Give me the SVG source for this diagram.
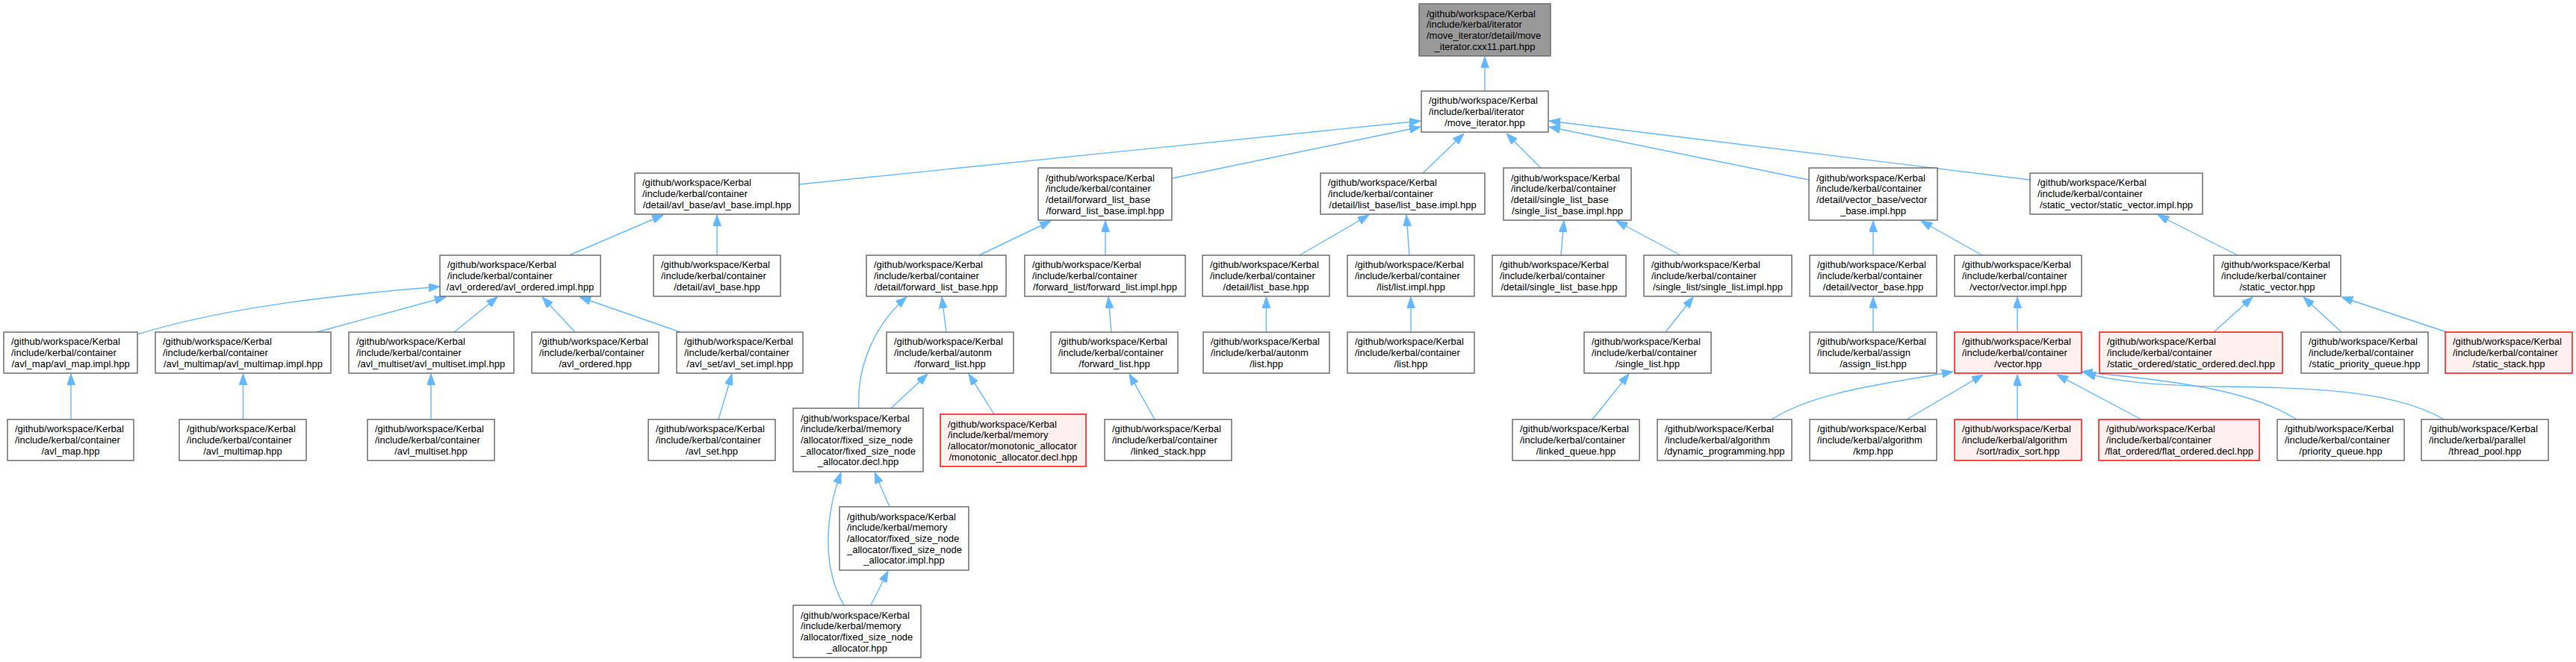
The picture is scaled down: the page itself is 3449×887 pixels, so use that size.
<svg xmlns="http://www.w3.org/2000/svg" width="3449" height="887" viewBox="0 0 3449 887">
<style>
.n rect{fill:#ffffff;stroke:#666666;stroke-width:1.4}
.r rect{fill:#fff0f0;stroke:#ff0000;stroke-width:1.4}
.root rect{fill:#999999;stroke:#666666;stroke-width:1.4}
text{font-family:"Liberation Sans",Arial,sans-serif;font-size:13px;fill:#000000}
.c{text-anchor:middle}
#edges path{fill:none;stroke:#63b8ff;stroke-width:1.4;marker-end:url(#ah)}
</style>
<defs>
<marker id="ah" markerUnits="userSpaceOnUse" viewBox="0 0 15 11" refX="15" refY="5.5" markerWidth="15" markerHeight="11" orient="auto">
<path d="M0,0 L15,5.5 L0,11 z" fill="#63b8ff" stroke="#63b8ff" stroke-width="1"/>
</marker>
</defs>
<rect x="0" y="0" width="3449" height="887" fill="#ffffff"/>
<g id="edges">
<path d="M1988,122 L1988,76"/>
<path d="M1070,247 L1902,162"/>
<path d="M1569,239 L1902,170"/>
<path d="M1905,232 L1960,179"/>
<path d="M2063,225 L2017,179"/>
<path d="M2422,241 L2074,170"/>
<path d="M2718,241 L2074,162"/>
<path d="M762,342 L888,288"/>
<path d="M960,342 L960,288"/>
<path d="M1311,342 L1407,296"/>
<path d="M1480,342 L1480,296"/>
<path d="M1740,342 L1833,288"/>
<path d="M1887,342 L1883,288"/>
<path d="M2090,342 L2094,296"/>
<path d="M2250,342 L2164,296"/>
<path d="M2508,342 L2508,296"/>
<path d="M2654,342 L2572,296"/>
<path d="M2996,342 L2889,288"/>
<path d="M184,448 C300,412 450,395 589,384"/>
<path d="M424,445 L597,398"/>
<path d="M608,445 L666,398"/>
<path d="M770,445 L726,398"/>
<path d="M911,445 L776,398"/>
<path d="M95,562 L95,501"/>
<path d="M325.5,562 L325.5,501"/>
<path d="M577,562 L577,501"/>
<path d="M962,562 L980,501"/>
<path d="M1150,547 C1147,500 1165,440 1214,398"/>
<path d="M1267,445 L1261,398"/>
<path d="M1488,445 L1484,398"/>
<path d="M1695.5,445 L1695.5,398"/>
<path d="M1889,445 L1889,398"/>
<path d="M2230,445 L2267,398"/>
<path d="M2508,445 L2508,398"/>
<path d="M2701,445 L2701,398"/>
<path d="M2964,445 L3016,398"/>
<path d="M3135,445 L3084,398"/>
<path d="M3276,445 L3135,398"/>
<path d="M1193,547 L1242,501"/>
<path d="M1331,555 L1297,501"/>
<path d="M1546,562 L1512,501"/>
<path d="M2132,562 L2181,501"/>
<path d="M2372,562 C2430,525 2520,515 2615,498"/>
<path d="M2553,562 L2655,502"/>
<path d="M2701,562 L2701,502"/>
<path d="M2867,562 L2754,502"/>
<path d="M3075,562 C3010,520 2900,510 2787,498"/>
<path d="M3272,562 C3215,528 3120,519 2980,518 C2880,517 2830,510 2791,500"/>
<path d="M1191,679 L1171,633"/>
<path d="M1130,811 C1100,760 1105,690 1126,633"/>
<path d="M1166,811 L1189,765"/>
</g>

<g id="n0" class="root"><rect x="1900" y="5" width="176" height="70"/>
<text x="1910" y="22.5">/github/workspace/Kerbal</text><text x="1910" y="37.2">/include/kerbal/iterator</text><text x="1910" y="51.8">/move_iterator/detail/move</text><text class="c" x="1988" y="66.5">_iterator.cxx11.part.hpp</text></g>

<g id="n1" class="n"><rect x="1903" y="122" width="170" height="55"/>
<text x="1913" y="139.3">/github/workspace/Kerbal</text><text x="1913" y="154">/include/kerbal/iterator</text><text class="c" x="1988" y="168.7">/move_iterator.hpp</text></g>

<g id="n2" class="n"><rect x="850" y="232" width="220" height="55"/>
<text x="860" y="249.3">/github/workspace/Kerbal</text><text x="860" y="264">/include/kerbal/container</text><text class="c" x="960" y="278.7">/detail/avl_base/avl_base.impl.hpp</text></g>

<g id="n3" class="n"><rect x="1390" y="225" width="179" height="70"/>
<text x="1400" y="242.5">/github/workspace/Kerbal</text><text x="1400" y="257.2">/include/kerbal/container</text><text x="1400" y="271.8">/detail/forward_list_base</text><text class="c" x="1479.5" y="286.5">/forward_list_base.impl.hpp</text></g>

<g id="n4" class="n"><rect x="1768" y="232" width="220" height="55"/>
<text x="1778" y="249.3">/github/workspace/Kerbal</text><text x="1778" y="264">/include/kerbal/container</text><text class="c" x="1878" y="278.7">/detail/list_base/list_base.impl.hpp</text></g>

<g id="n5" class="n"><rect x="2013" y="225" width="171" height="70"/>
<text x="2023" y="242.5">/github/workspace/Kerbal</text><text x="2023" y="257.2">/include/kerbal/container</text><text x="2023" y="271.8">/detail/single_list_base</text><text class="c" x="2098.5" y="286.5">/single_list_base.impl.hpp</text></g>

<g id="n6" class="n"><rect x="2422" y="225" width="172" height="70"/>
<text x="2432" y="242.5">/github/workspace/Kerbal</text><text x="2432" y="257.2">/include/kerbal/container</text><text x="2432" y="271.8">/detail/vector_base/vector</text><text class="c" x="2508" y="286.5">_base.impl.hpp</text></g>

<g id="n7" class="n"><rect x="2718" y="232" width="231" height="55"/>
<text x="2728" y="249.3">/github/workspace/Kerbal</text><text x="2728" y="264">/include/kerbal/container</text><text class="c" x="2833.5" y="278.7">/static_vector/static_vector.impl.hpp</text></g>

<g id="n8" class="n"><rect x="589" y="342" width="215" height="55"/>
<text x="599" y="359.3">/github/workspace/Kerbal</text><text x="599" y="374">/include/kerbal/container</text><text class="c" x="696.5" y="388.7">/avl_ordered/avl_ordered.impl.hpp</text></g>

<g id="n9" class="n"><rect x="875" y="342" width="170" height="55"/>
<text x="885" y="359.3">/github/workspace/Kerbal</text><text x="885" y="374">/include/kerbal/container</text><text class="c" x="960" y="388.7">/detail/avl_base.hpp</text></g>

<g id="n10" class="n"><rect x="1160" y="342" width="187" height="55"/>
<text x="1170" y="359.3">/github/workspace/Kerbal</text><text x="1170" y="374">/include/kerbal/container</text><text class="c" x="1253.5" y="388.7">/detail/forward_list_base.hpp</text></g>

<g id="n11" class="n"><rect x="1372" y="342" width="215" height="55"/>
<text x="1382" y="359.3">/github/workspace/Kerbal</text><text x="1382" y="374">/include/kerbal/container</text><text class="c" x="1479.5" y="388.7">/forward_list/forward_list.impl.hpp</text></g>

<g id="n12" class="n"><rect x="1610" y="342" width="170" height="55"/>
<text x="1620" y="359.3">/github/workspace/Kerbal</text><text x="1620" y="374">/include/kerbal/container</text><text class="c" x="1695" y="388.7">/detail/list_base.hpp</text></g>

<g id="n13" class="n"><rect x="1804" y="342" width="170" height="55"/>
<text x="1814" y="359.3">/github/workspace/Kerbal</text><text x="1814" y="374">/include/kerbal/container</text><text class="c" x="1889" y="388.7">/list/list.impl.hpp</text></g>

<g id="n14" class="n"><rect x="1998" y="342" width="179" height="55"/>
<text x="2008" y="359.3">/github/workspace/Kerbal</text><text x="2008" y="374">/include/kerbal/container</text><text class="c" x="2087.5" y="388.7">/detail/single_list_base.hpp</text></g>

<g id="n15" class="n"><rect x="2201" y="342" width="198" height="55"/>
<text x="2211" y="359.3">/github/workspace/Kerbal</text><text x="2211" y="374">/include/kerbal/container</text><text class="c" x="2300" y="388.7">/single_list/single_list.impl.hpp</text></g>

<g id="n16" class="n"><rect x="2423" y="342" width="170" height="55"/>
<text x="2433" y="359.3">/github/workspace/Kerbal</text><text x="2433" y="374">/include/kerbal/container</text><text class="c" x="2508" y="388.7">/detail/vector_base.hpp</text></g>

<g id="n17" class="n"><rect x="2617" y="342" width="170" height="55"/>
<text x="2627" y="359.3">/github/workspace/Kerbal</text><text x="2627" y="374">/include/kerbal/container</text><text class="c" x="2702" y="388.7">/vector/vector.impl.hpp</text></g>

<g id="n18" class="n"><rect x="2964" y="342" width="170" height="55"/>
<text x="2974" y="359.3">/github/workspace/Kerbal</text><text x="2974" y="374">/include/kerbal/container</text><text class="c" x="3049" y="388.7">/static_vector.hpp</text></g>

<g id="n19" class="n"><rect x="5" y="445" width="179" height="55"/>
<text x="15" y="462.3">/github/workspace/Kerbal</text><text x="15" y="477">/include/kerbal/container</text><text class="c" x="94.5" y="491.7">/avl_map/avl_map.impl.hpp</text></g>

<g id="n20" class="n"><rect x="208" y="445" width="235" height="55"/>
<text x="218" y="462.3">/github/workspace/Kerbal</text><text x="218" y="477">/include/kerbal/container</text><text class="c" x="325.5" y="491.7">/avl_multimap/avl_multimap.impl.hpp</text></g>

<g id="n21" class="n"><rect x="467" y="445" width="221" height="55"/>
<text x="477" y="462.3">/github/workspace/Kerbal</text><text x="477" y="477">/include/kerbal/container</text><text class="c" x="577.5" y="491.7">/avl_multiset/avl_multiset.impl.hpp</text></g>

<g id="n22" class="n"><rect x="712" y="445" width="170" height="55"/>
<text x="722" y="462.3">/github/workspace/Kerbal</text><text x="722" y="477">/include/kerbal/container</text><text class="c" x="797" y="491.7">/avl_ordered.hpp</text></g>

<g id="n23" class="n"><rect x="906" y="445" width="169" height="55"/>
<text x="916" y="462.3">/github/workspace/Kerbal</text><text x="916" y="477">/include/kerbal/container</text><text class="c" x="990.5" y="491.7">/avl_set/avl_set.impl.hpp</text></g>

<g id="n24" class="n"><rect x="1187" y="445" width="170" height="55"/>
<text x="1197" y="462.3">/github/workspace/Kerbal</text><text x="1197" y="477">/include/kerbal/autonm</text><text class="c" x="1272" y="491.7">/forward_list.hpp</text></g>

<g id="n25" class="n"><rect x="1407" y="445" width="170" height="55"/>
<text x="1417" y="462.3">/github/workspace/Kerbal</text><text x="1417" y="477">/include/kerbal/container</text><text class="c" x="1492" y="491.7">/forward_list.hpp</text></g>

<g id="n26" class="n"><rect x="1611" y="445" width="169" height="55"/>
<text x="1621" y="462.3">/github/workspace/Kerbal</text><text x="1621" y="477">/include/kerbal/autonm</text><text class="c" x="1695.5" y="491.7">/list.hpp</text></g>

<g id="n27" class="n"><rect x="1804" y="445" width="170" height="55"/>
<text x="1814" y="462.3">/github/workspace/Kerbal</text><text x="1814" y="477">/include/kerbal/container</text><text class="c" x="1889" y="491.7">/list.hpp</text></g>

<g id="n28" class="n"><rect x="2121" y="445" width="170" height="55"/>
<text x="2131" y="462.3">/github/workspace/Kerbal</text><text x="2131" y="477">/include/kerbal/container</text><text class="c" x="2206" y="491.7">/single_list.hpp</text></g>

<g id="n29" class="n"><rect x="2423" y="445" width="170" height="55"/>
<text x="2433" y="462.3">/github/workspace/Kerbal</text><text x="2433" y="477">/include/kerbal/assign</text><text class="c" x="2508" y="491.7">/assign_list.hpp</text></g>

<g id="n30" class="r"><rect x="2617" y="445" width="170" height="55"/>
<text x="2627" y="462.3">/github/workspace/Kerbal</text><text x="2627" y="477">/include/kerbal/container</text><text class="c" x="2702" y="491.7">/vector.hpp</text></g>

<g id="n31" class="r"><rect x="2811" y="445" width="245" height="55"/>
<text x="2821" y="462.3">/github/workspace/Kerbal</text><text x="2821" y="477">/include/kerbal/container</text><text class="c" x="2933.5" y="491.7">/static_ordered/static_ordered.decl.hpp</text></g>

<g id="n32" class="n"><rect x="3081" y="445" width="170" height="55"/>
<text x="3091" y="462.3">/github/workspace/Kerbal</text><text x="3091" y="477">/include/kerbal/container</text><text class="c" x="3166" y="491.7">/static_priority_queue.hpp</text></g>

<g id="n33" class="r"><rect x="3274" y="445" width="170" height="55"/>
<text x="3284" y="462.3">/github/workspace/Kerbal</text><text x="3284" y="477">/include/kerbal/container</text><text class="c" x="3359" y="491.7">/static_stack.hpp</text></g>

<g id="n34" class="n"><rect x="10" y="562" width="169" height="55"/>
<text x="20" y="579.3">/github/workspace/Kerbal</text><text x="20" y="594">/include/kerbal/container</text><text class="c" x="94.5" y="608.7">/avl_map.hpp</text></g>

<g id="n35" class="n"><rect x="240" y="562" width="170" height="55"/>
<text x="250" y="579.3">/github/workspace/Kerbal</text><text x="250" y="594">/include/kerbal/container</text><text class="c" x="325" y="608.7">/avl_multimap.hpp</text></g>

<g id="n36" class="n"><rect x="492" y="562" width="170" height="55"/>
<text x="502" y="579.3">/github/workspace/Kerbal</text><text x="502" y="594">/include/kerbal/container</text><text class="c" x="577" y="608.7">/avl_multiset.hpp</text></g>

<g id="n37" class="n"><rect x="868" y="562" width="170" height="55"/>
<text x="878" y="579.3">/github/workspace/Kerbal</text><text x="878" y="594">/include/kerbal/container</text><text class="c" x="953" y="608.7">/avl_set.hpp</text></g>

<g id="n38" class="n"><rect x="1062" y="547" width="174" height="85"/>
<text x="1072" y="564.7">/github/workspace/Kerbal</text><text x="1072" y="579.3">/include/kerbal/memory</text><text x="1072" y="594">/allocator/fixed_size_node</text><text x="1072" y="608.7">_allocator/fixed_size_node</text><text class="c" x="1149" y="623.3">_allocator.decl.hpp</text></g>

<g id="n39" class="r"><rect x="1259" y="555" width="195" height="70"/>
<text x="1269" y="572.5">/github/workspace/Kerbal</text><text x="1269" y="587.2">/include/kerbal/memory</text><text x="1269" y="601.8">/allocator/monotonic_allocator</text><text class="c" x="1356.5" y="616.5">/monotonic_allocator.decl.hpp</text></g>

<g id="n40" class="n"><rect x="1479" y="562" width="170" height="55"/>
<text x="1489" y="579.3">/github/workspace/Kerbal</text><text x="1489" y="594">/include/kerbal/container</text><text class="c" x="1564" y="608.7">/linked_stack.hpp</text></g>

<g id="n41" class="n"><rect x="2025" y="562" width="170" height="55"/>
<text x="2035" y="579.3">/github/workspace/Kerbal</text><text x="2035" y="594">/include/kerbal/container</text><text class="c" x="2110" y="608.7">/linked_queue.hpp</text></g>

<g id="n42" class="n"><rect x="2219" y="562" width="180" height="55"/>
<text x="2229" y="579.3">/github/workspace/Kerbal</text><text x="2229" y="594">/include/kerbal/algorithm</text><text class="c" x="2309" y="608.7">/dynamic_programming.hpp</text></g>

<g id="n43" class="n"><rect x="2423" y="562" width="170" height="55"/>
<text x="2433" y="579.3">/github/workspace/Kerbal</text><text x="2433" y="594">/include/kerbal/algorithm</text><text class="c" x="2508" y="608.7">/kmp.hpp</text></g>

<g id="n44" class="r"><rect x="2617" y="562" width="170" height="55"/>
<text x="2627" y="579.3">/github/workspace/Kerbal</text><text x="2627" y="594">/include/kerbal/algorithm</text><text class="c" x="2702" y="608.7">/sort/radix_sort.hpp</text></g>

<g id="n45" class="r"><rect x="2810" y="562" width="215" height="55"/>
<text x="2820" y="579.3">/github/workspace/Kerbal</text><text x="2820" y="594">/include/kerbal/container</text><text class="c" x="2917.5" y="608.7">/flat_ordered/flat_ordered.decl.hpp</text></g>

<g id="n46" class="n"><rect x="3049" y="562" width="170" height="55"/>
<text x="3059" y="579.3">/github/workspace/Kerbal</text><text x="3059" y="594">/include/kerbal/container</text><text class="c" x="3134" y="608.7">/priority_queue.hpp</text></g>

<g id="n47" class="n"><rect x="3242" y="562" width="170" height="55"/>
<text x="3252" y="579.3">/github/workspace/Kerbal</text><text x="3252" y="594">/include/kerbal/parallel</text><text class="c" x="3327" y="608.7">/thread_pool.hpp</text></g>

<g id="n48" class="n"><rect x="1124" y="679" width="173" height="85"/>
<text x="1134" y="696.7">/github/workspace/Kerbal</text><text x="1134" y="711.3">/include/kerbal/memory</text><text x="1134" y="726">/allocator/fixed_size_node</text><text x="1134" y="740.7">_allocator/fixed_size_node</text><text class="c" x="1210.5" y="755.3">_allocator.impl.hpp</text></g>

<g id="n49" class="n"><rect x="1062" y="811" width="171" height="70"/>
<text x="1072" y="828.5">/github/workspace/Kerbal</text><text x="1072" y="843.2">/include/kerbal/memory</text><text x="1072" y="857.8">/allocator/fixed_size_node</text><text class="c" x="1147.5" y="872.5">_allocator.hpp</text></g>
</svg>
